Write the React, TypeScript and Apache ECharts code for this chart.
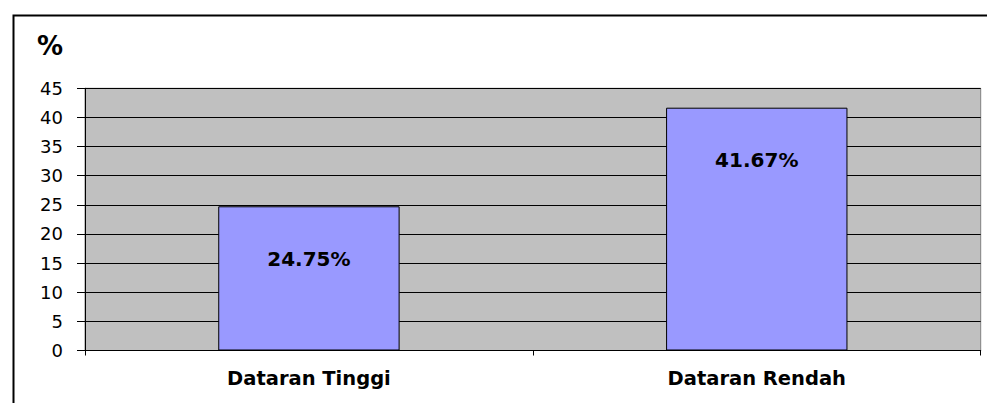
import React, { useEffect, useRef } from "react";
import * as echarts from "echarts";

const categories = ["Dataran Tinggi", "Dataran Rendah"];
const values = [24.75, 41.67];
const valueLabels = ["24.75%", "41.67%"];
const yTicks = { min: 0, max: 45, interval: 5 };
const unitLabel = "%";

export default function App() {
  const ref = useRef<HTMLDivElement>(null);
  useEffect(() => {
    if (!ref.current) return;
    const chart = echarts.init(ref.current, null, { renderer: "svg" });
    const font = "'DejaVu Sans', Verdana, sans-serif";
    chart.setOption({
      animation: false,
      backgroundColor: "#ffffff",
      graphic: [
        {
          type: "rect",
          left: 11,
          top: 13,
          shape: { x: 0, y: 0, width: 1100, height: 500 },
          style: { fill: "none", stroke: "#000000", lineWidth: 2 },
          silent: true,
          z: 100,
        },
        {
          type: "text",
          x: 50,
          y: 46,
          style: {
            text: unitLabel,
            fill: "#000000",
            font: `bold 26px ${font}`,
            align: "center",
            verticalAlign: "middle",
          },
        },
      ],
      grid: {
        left: 85,
        top: 88.3,
        right: 6.3,
        bottom: 52.5,
        show: true,
        backgroundColor: "#C0C0C0",
        borderColor: "#808080",
        borderWidth: 1,
      },
      xAxis: {
        type: "category",
        data: categories,
        axisLine: { show: true, lineStyle: { color: "#000000", width: 1 } },
        axisTick: { show: true, length: 5, lineStyle: { color: "#000000" } },
        axisLabel: {
          color: "#000000",
          fontFamily: font,
          fontWeight: "bold",
          fontSize: 19.5,
          margin: 18,
        },
        splitLine: { show: false },
      },
      yAxis: {
        type: "value",
        min: yTicks.min,
        max: yTicks.max,
        interval: yTicks.interval,
        axisLine: { show: true, lineStyle: { color: "#000000", width: 1 } },
        axisTick: { show: true, inside: false, length: 8, lineStyle: { color: "#000000" } },
        axisLabel: {
          color: "#000000",
          fontFamily: font,
          fontSize: 18,
          margin: 22,
        },
        splitLine: { show: true, lineStyle: { color: "#000000", width: 1 } },
      },
      series: [
        {
          type: "bar",
          data: values,
          barWidth: "40.5%",
          itemStyle: { color: "#9999FF", borderColor: "#000000", borderWidth: 1 },
          label: {
            show: true,
            position: ["50%", 52.5],
            align: "center",
            verticalAlign: "middle",
            color: "#000000",
            fontFamily: font,
            fontWeight: "bold",
            fontSize: 20,
            formatter: (p: any) => valueLabels[p.dataIndex],
          },
        },
      ],
    });
    return () => chart.dispose();
  }, []);
  return (
    <div
      ref={ref}
      style={{ position: "fixed", left: 0, top: 0, width: 987, height: 403 }}
    />
  );
}
